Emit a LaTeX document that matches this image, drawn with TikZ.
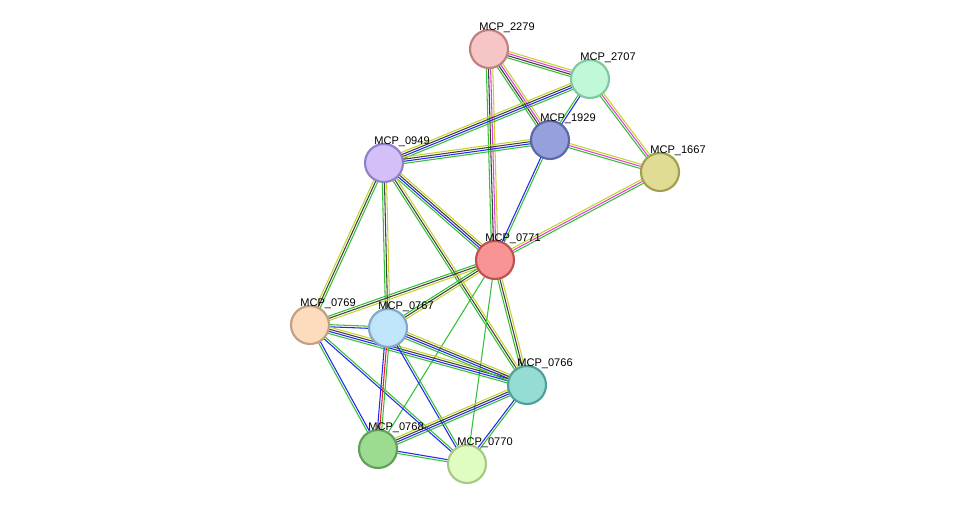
\documentclass[tikz,border=0pt]{standalone}
\usepackage{fontspec}
\setmainfont{Liberation Sans}
\usetikzlibrary{calc,backgrounds}
\definecolor{egreen}{HTML}{33C233}
\definecolor{eyellow}{HTML}{C4D42C}
\definecolor{emagenta}{HTML}{E040E0}
\definecolor{eblue}{HTML}{2626F0}
\definecolor{eblack}{HTML}{404040}
\definecolor{ered}{HTML}{F02020}
\tikzset{
  prot/.style={circle, minimum size=28.5pt, inner sep=0pt, line width=1.6pt,
    label={[lbl]center:#1}},
  lbl/.style={anchor=west, xshift=13.5pt, yshift=15.8pt, inner sep=0pt,
    font=\fontsize{8.3}{10}\selectfont},
}
% one edge: from, to, number of lines, colours
\newcommand\edge[4]{%
  \foreach \c [count=\i] in {#4} {
    \pgfmathsetmacro\off{(\i-(#3+1)/2)*1.6}
    \draw[line width=0.8pt, \c] ($(#1.center)!\off pt!90:(#2.center)$) -- ($(#2.center)!\off pt!-90:(#1.center)$);
  }}
\begin{document}
\begin{tikzpicture}[x=0.75pt, y=-0.75pt]
  \useasboundingbox (0,0) rectangle (975,510);

  \node[prot=MCP\_2279, fill={rgb,255:red,246;green,197;blue,197}, draw={rgb,255:red,192;green,128;blue,128}] (p2279) at (489,49) {};
  \node[prot=MCP\_2707, fill={rgb,255:red,192;green,248;blue,216}, draw={rgb,255:red,128;green,200;blue,160}] (p2707) at (590,79) {};
  \node[prot=MCP\_1929, fill={rgb,255:red,150;green,160;blue,220}, draw={rgb,255:red,90;green,104;blue,168}] (p1929) at (550,140) {};
  \node[prot=MCP\_1667, fill={rgb,255:red,224;green,220;blue,148}, draw={rgb,255:red,160;green,160;blue,80}] (p1667) at (660,172) {};
  \node[prot=MCP\_0949, fill={rgb,255:red,212;green,192;blue,248}, draw={rgb,255:red,144;green,128;blue,200}] (p0949) at (384,163) {};
  \node[prot=MCP\_0771, fill={rgb,255:red,248;green,148;blue,148}, draw={rgb,255:red,192;green,80;blue,80}] (p0771) at (495,260) {};
  \node[prot=MCP\_0769, fill={rgb,255:red,252;green,220;blue,188}, draw={rgb,255:red,192;green,160;blue,128}] (p0769) at (310,325) {};
  \node[prot=MCP\_0767, fill={rgb,255:red,192;green,228;blue,250}, draw={rgb,255:red,128;green,168;blue,200}] (p0767) at (388,328) {};
  \node[prot=MCP\_0766, fill={rgb,255:red,148;green,220;blue,212}, draw={rgb,255:red,80;green,160;blue,152}] (p0766) at (527,385) {};
  \node[prot=MCP\_0768, fill={rgb,255:red,156;green,220;blue,144}, draw={rgb,255:red,96;green,160;blue,88}] (p0768) at (378,449) {};
  \node[prot=MCP\_0770, fill={rgb,255:red,224;green,252;blue,192}, draw={rgb,255:red,168;green,200;blue,136}] (p0770) at (467,464) {};

  \begin{pgfonlayer}{background}
    \edge{p2279}{p2707}{4}{egreen,eblack,emagenta,eyellow}
    \edge{p2279}{p1929}{4}{egreen,eblack,emagenta,eyellow}
    \edge{p2279}{p0771}{4}{egreen,eblack,emagenta,eyellow}
    \edge{p2707}{p1929}{2}{egreen,eblue}
    \edge{p2707}{p1667}{3}{egreen,emagenta,eyellow}
    \edge{p2707}{p0949}{4}{eyellow,eblack,eblue,egreen}
    \edge{p1929}{p0949}{4}{eyellow,eblack,eblue,egreen}
    \edge{p1929}{p1667}{3}{egreen,emagenta,eyellow}
    \edge{p1929}{p0771}{2}{eblue,egreen}
    \edge{p1667}{p0771}{3}{eyellow,emagenta,egreen}
    \edge{p0949}{p0771}{4}{egreen,eblue,eblack,eyellow}
    \edge{p0949}{p0769}{3}{eyellow,eblack,egreen}
    \edge{p0949}{p0767}{3}{egreen,eblack,eyellow}
    \edge{p0949}{p0766}{3}{egreen,eblack,eyellow}
    \edge{p0771}{p0769}{3}{egreen,eblack,eyellow}
    \edge{p0771}{p0767}{3}{egreen,eblack,eyellow}
    \edge{p0771}{p0766}{3}{egreen,eblack,eyellow}
    \edge{p0771}{p0768}{1}{egreen}
    \edge{p0771}{p0770}{1}{egreen}
    \edge{p0769}{p0767}{2}{eblue,egreen}
    \edge{p0769}{p0766}{4}{egreen,eblue,eblack,eyellow}
    \edge{p0769}{p0768}{2}{egreen,eblue}
    \edge{p0769}{p0770}{2}{eblue,egreen}
    \edge{p0767}{p0766}{4}{egreen,eblue,eblack,eyellow}
    \edge{p0767}{p0768}{3}{eblue,ered,egreen}
    \edge{p0767}{p0770}{2}{eblue,egreen}
    \edge{p0766}{p0768}{4}{eyellow,eblack,eblue,egreen}
    \edge{p0766}{p0770}{2}{eblue,egreen}
    \edge{p0768}{p0770}{2}{egreen,eblue}
  \end{pgfonlayer}
\end{tikzpicture}
\end{document}
